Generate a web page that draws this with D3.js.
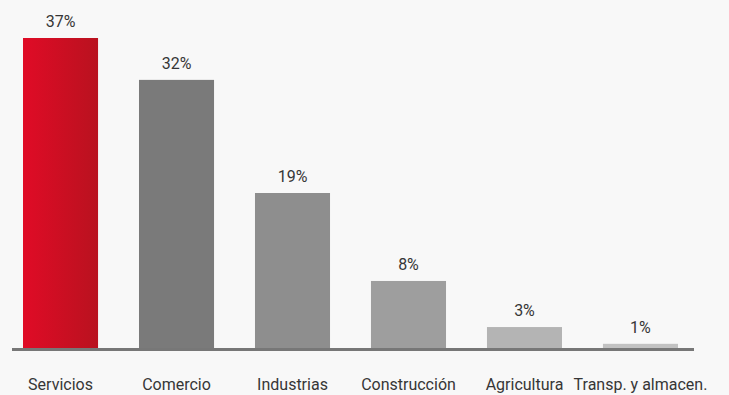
<!DOCTYPE html>
<html>
<head>
<meta charset="utf-8">
<script src="https://cdn.jsdelivr.net/npm/d3@7"></script>
<style>
  html, body { margin: 0; padding: 0; background: #f8f8f8; }
  svg { display: block; }
  text { font-family: Roboto, "Liberation Sans", sans-serif; fill: #363636; }
</style>
</head>
<body>
<script>
// data
var categories = ["Servicios", "Comercio", "Industrias", "Construcción", "Agricultura", "Transp. y almacen."];
var values = [37, 32, 18.5, 8, 2.5, 0.5];
var valueLabels = ["37%", "32%", "19%", "8%", "3%", "1%"];
var barColors = ["url(#redGrad)", "#7a7a7a", "#8e8e8e", "#9e9e9e", "#b4b4b4", "#c2c2c2"];

var w = 729, h = 395;

var svg = d3.select("body").append("svg")
    .attr("width", w)
    .attr("height", h);

// red gradient for the first bar
var grad = svg.append("defs").append("linearGradient")
    .attr("id", "redGrad")
    .attr("x1", "0%").attr("y1", "0%")
    .attr("x2", "100%").attr("y2", "0%");
grad.append("stop").attr("offset", "0%").attr("stop-color", "#e00b26");
grad.append("stop").attr("offset", "100%").attr("stop-color", "#b9121f");

var x = d3.scaleBand()
    .domain(categories)
    .range([23, 678])
    .paddingInner(0.353)
    .paddingOuter(0);

var y = d3.scaleLinear()
    .domain([0, 37])
    .range([348, 38]);

var rows = categories.map(function (c, i) {
    return {cat: c, val: values[i], label: valueLabels[i], color: barColors[i]};
});

// bars
svg.selectAll(".bar")
    .data(rows)
    .enter()
    .append("rect")
    .attr("class", "bar")
    .attr("x", d => x(d.cat))
    .attr("y", d => y(d.val))
    .attr("width", x.bandwidth())
    .attr("height", d => y(0) - y(d.val))
    .attr("fill", d => d.color);

// value labels
svg.selectAll(".val")
    .data(rows)
    .enter()
    .append("text")
    .attr("class", "val")
    .attr("x", d => x(d.cat) + x.bandwidth() / 2)
    .attr("y", d => y(d.val) - 11)
    .attr("text-anchor", "middle")
    .style("font-size", "16px")
    .text(d => d.label);

// baseline
svg.append("line")
    .attr("x1", 12)
    .attr("x2", 694)
    .attr("y1", y(0) + 1.5)
    .attr("y2", y(0) + 1.5)
    .attr("stroke", "#777")
    .attr("stroke-width", 3);

// category labels
svg.selectAll(".cat")
    .data(rows)
    .enter()
    .append("text")
    .attr("class", "cat")
    .attr("x", d => x(d.cat) + x.bandwidth() / 2)
    .attr("y", 390)
    .attr("text-anchor", "middle")
    .style("font-size", "16px")
    .text(d => d.cat);
</script>
</body>
</html>
